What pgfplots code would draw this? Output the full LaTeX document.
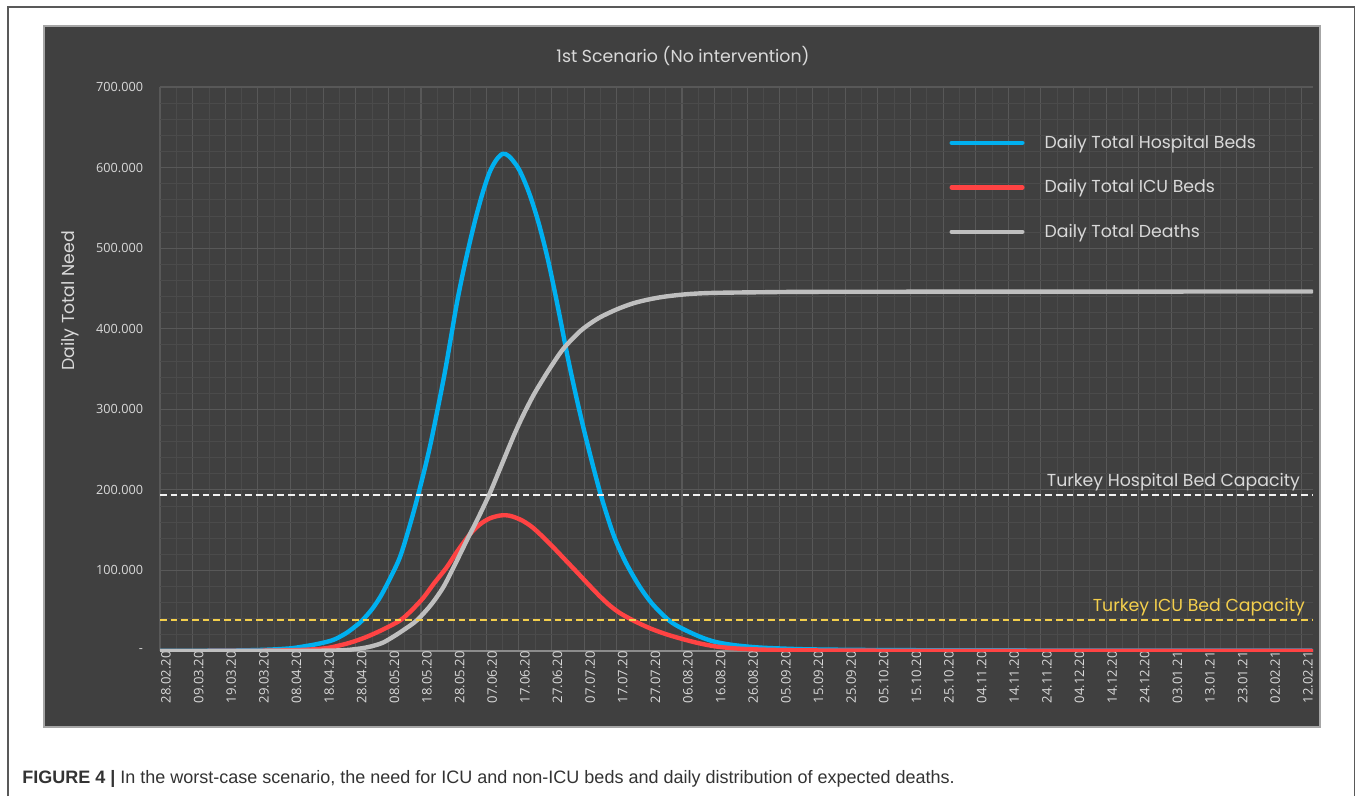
\documentclass[border=0pt]{standalone}
\usepackage{pgfplots}
\pgfplotsset{compat=1.18}
\usepackage{fontspec}
\setmainfont{Poppins}
\newfontfamily\tickfont{Open Sans}
\newfontfamily\capfont{Liberation Sans}
\definecolor{panel}{HTML}{404040}
\definecolor{majgrid}{HTML}{585858}
\definecolor{mingrid}{HTML}{4B4B4B}
\definecolor{txt}{HTML}{D9D9D9}
\definecolor{cblue}{HTML}{00B0F0}
\definecolor{cred}{HTML}{FF4343}
\definecolor{cgray}{HTML}{BFBFBF}
\definecolor{cyel}{HTML}{F4CF4C}
\begin{document}
\begin{tikzpicture}
\begin{scope}[x=0.75pt,y=0.75pt]
\fill[white] (0,0) rectangle (1360,796);
\draw[black!65, line width=1.2pt] (8,0) -- (8,789) -- (1354.5,789) -- (1354.5,0);
\fill[panel, draw=black!35, line width=0.8pt] (44,69) rectangle (1320,770);
\node[text=txt, font=\fontsize{13}{15}\selectfont] at (683,740) {1st Scenario (No intervention)};
\node[text=txt, rotate=90, font=\fontsize{13}{15}\selectfont] at (70,495) {Daily Total Need};
\node[anchor=base west, inner sep=0pt, font=\capfont\fontsize{13.5}{15}\selectfont, text=black!80] at (22,13) {\textbf{FIGURE 4 |} In the worst-case scenario, the need for ICU and non-ICU beds and daily distribution of expected deaths.};
\end{scope}
\begin{axis}[
  at={(120pt,108.75pt)}, anchor=south west,
  scale only axis, width=864.75pt, height=423pt,
  xmin=0, xmax=353.4, ymin=0, ymax=700,
  axis x line*=bottom, axis y line*=left,
  x axis line style={draw=black!45, line width=1pt},
  y axis line style={draw=none},
  major tick length=0pt, minor tick length=0pt,
  xtick={0,10,...,350}, minor xtick={5,15,...,345},
  ytick={0,100,...,700}, minor ytick={20,40,60,80,120,140,160,180,220,240,260,280,320,340,360,380,420,440,460,480,520,540,560,580,620,640,660,680},
  grid=both,
  major grid style={draw=majgrid, line width=0.8pt},
  minor grid style={draw=mingrid, line width=0.6pt},
  yticklabels={-,100.000,200.000,300.000,400.000,500.000,600.000,700.000},
  xticklabels={28.02.20,09.03.20,19.03.20,29.03.20,08.04.20,18.04.20,28.04.20,08.05.20,18.05.20,28.05.20,07.06.20,17.06.20,27.06.20,07.07.20,17.07.20,27.07.20,06.08.20,16.08.20,26.08.20,05.09.20,15.09.20,25.09.20,05.10.20,15.10.20,25.10.20,04.11.20,14.11.20,24.11.20,04.12.20,14.12.20,24.12.20,03.01.21,13.01.21,23.01.21,02.02.21,12.02.21},
  ticklabel style={text=txt},
  xticklabel style={rotate=90, anchor=east, inner sep=0pt, yshift=-4.5pt, font=\tickfont\fontsize{9.8}{11}\selectfont},
  yticklabel style={anchor=east, inner sep=0pt, xshift=-12.5pt, font=\tickfont\fontsize{9.5}{11}\selectfont},
  legend style={at={(rel axis cs:0.6845,0.915)}, anchor=north west, draw=none, fill=none,
    text=txt, font=\fontsize{13}{15}\selectfont, row sep=22pt, inner sep=0pt,
    nodes={inner sep=0pt},
    /tikz/every odd column/.append style={column sep=15pt}},
  legend image code/.code={\draw[#1, line cap=round] (0pt,0pt) -- (53pt,0pt);},
  legend cell align=left,
  every axis plot/.append style={line width=3.3pt, line join=round, line cap=round},
]
\addplot[cblue, smooth, tension=0.5] coordinates {(0,0.2)(10,0.3)(20,0.5)(25,0.8)(30,1.2)(35,2)(40,3.3)(43,5)(48,8.5)(53,13.6)(57,22)(60,31)(62,38)(65,52)(67.5,67)(70,86)(73.5,116)(76.5,155)(79.2,195)(82.7,253)(86.8,335)(89,385)(91,432)(93,472)(95,508)(97,541)(99,570)(101,594)(103,609)(105,617)(107,614)(110,598)(113,570)(116,532)(119,484)(122,426)(125,364)(128,308)(131,257)(134.8,198)(138,156)(140,134)(143,108)(147,80)(151,58)(156,38)(160,28)(165.5,17.7)(170,11.5)(175.7,7.4)(183,4.5)(191,3)(200,2)(220,1.2)(250,0.8)(300,0.5)(353,0.4)};
\addlegendentry{Daily Total Hospital Beds}
\addplot[cred, smooth, tension=0.5] coordinates {(0,0)(20,0.1)(30,0.3)(40,0.9)(45,1.6)(50,3)(53,5)(58,10)(63,17)(68,26)(73.6,38)(77,50)(80.7,66)(84,84)(87.9,104)(91,123)(95,145)(98,157)(101,164.5)(104,168)(106,168.5)(108,167)(111,162)(114,154)(117,143)(120,131)(124,114)(128,97)(131,84)(134.8,68)(138,56)(141,47)(145,38)(150,28.5)(155,21)(160,15)(165,9.8)(170.6,5.5)(178,2.8)(190,1.2)(210,0.5)(250,0.2)(353,0.1)};
\addlegendentry{Daily Total ICU Beds}
\addplot[cgray, smooth, tension=0.5] coordinates {(0,0)(40,0.1)(50,0.4)(55,0.8)(58,1.5)(62,3.5)(65,6)(68.4,10.5)(72,19)(75,27)(78.7,38)(83,57)(86.8,79)(90,104)(94,137)(97.5,165)(101,195)(104.2,226)(108.3,266)(111,290)(114.4,317)(117.5,338)(120,354)(123.6,375)(128,394)(131,404)(134.8,414)(140,424)(145,431.5)(150,436.5)(155,440)(162,443)(170,444.5)(185,445.3)(200,445.8)(250,446)(353,446.2)};
\addlegendentry{Daily Total Deaths}
\addplot[white!95!black, line width=1.5pt, dash pattern=on 5pt off 3pt, line cap=butt, forget plot] coordinates {(0,193.8)(353.4,193.8)};
\addplot[cyel, line width=1.5pt, dash pattern=on 5pt off 3pt, line cap=butt, forget plot] coordinates {(0,38.3)(353.4,38.3)};
\node[anchor=south east, inner sep=0pt, text=txt, font=\fontsize{13}{15}\selectfont] at (axis cs:349.5,198) {Turkey Hospital Bed Capacity};
\node[anchor=south east, inner sep=0pt, text=cyel, font=\fontsize{13}{15}\selectfont] at (axis cs:351,43) {Turkey ICU Bed Capacity};
\end{axis}
\end{tikzpicture}
\end{document}
